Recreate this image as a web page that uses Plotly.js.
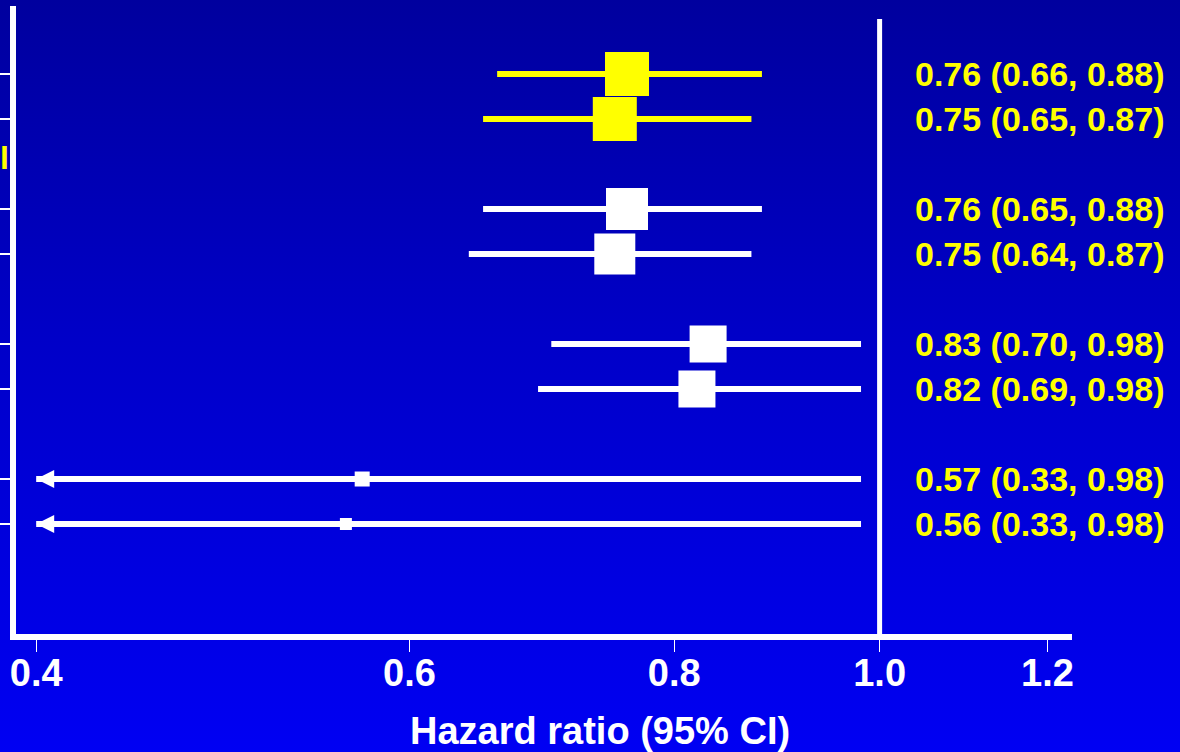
<!DOCTYPE html>
<html>
<head>
<meta charset="utf-8">
<script src="https://cdn.plot.ly/plotly-3.0.1.min.js"></script>
<style>
  html, body { margin: 0; padding: 0; }
  body { width: 1180px; height: 752px; overflow: hidden;
         background: linear-gradient(to bottom, #00009E 0%, #0000C8 45%, #0000F3 100%); }
  #chart { width: 1180px; height: 752px; }
</style>
</head>
<body>
<div id="chart"></div>
<script>
// ---- data ----
const hazardRatio = [0.76, 0.75, 0.76, 0.75, 0.83, 0.82, 0.57, 0.56];
const ciLower     = [0.66, 0.65, 0.65, 0.64, 0.70, 0.69, 0.33, 0.33];
const ciUpper     = [0.88, 0.87, 0.88, 0.87, 0.98, 0.98, 0.98, 0.98];
const groupOf     = [0, 0, 1, 1, 2, 2, 3, 3];
const xTickValues = [0.4, 0.6, 0.8, 1.0, 1.2];
const xTickLabels = ['0.4', '0.6', '0.8', '1.0', '1.2'];
const axisTitle   = 'Hazard ratio (95% CI)';
const nullValue   = 1.0;

// ---- styles ----
const YELLOW = '#FFFF00', WHITE = '#FFFFFF';
const boxSize = [44, 44, 42, 41, 37, 37, 15, 12];
const xMinShown = 0.4;            // lower clip where arrows are drawn
const FONT = 'Arial, "Liberation Sans", Helvetica, sans-serif';

// row positions: pairs inside groups, one blank slot between groups
const yPos = groupOf.map((g, i) => g * 3 + (i % 2));
const rowColor = groupOf.map(g => g === 0 ? YELLOW : WHITE);
const Y_RANGE = [12.444, -1.511];

function lineTrace(color) {
  const xs = [], ys = [];
  hazardRatio.forEach((_, i) => {
    if (rowColor[i] !== color) return;
    xs.push(Math.max(ciLower[i], xMinShown), ciUpper[i], null);
    ys.push(yPos[i], yPos[i], null);
  });
  return { type: 'scatter', mode: 'lines', x: xs, y: ys,
           line: { color: color, width: 6 }, hoverinfo: 'skip', showlegend: false };
}

const refLine = {
  type: 'scatter', mode: 'lines', x: [nullValue, nullValue], y: [-1.222, Y_RANGE[0]],
  line: { color: WHITE, width: 5 }, hoverinfo: 'skip', showlegend: false, cliponaxis: false
};

const arrowIdx = hazardRatio.map((_, i) => i).filter(i => ciLower[i] < xMinShown);
const arrowTrace = {
  type: 'scatter', mode: 'markers',
  x: arrowIdx.map(() => xMinShown), y: arrowIdx.map(i => yPos[i]),
  marker: { symbol: 'arrow-left', size: 18, color: WHITE, opacity: 1, line: { width: 0 } },
  hoverinfo: 'skip', showlegend: false
};

const boxTrace = {
  type: 'scatter', mode: 'markers',
  x: hazardRatio, y: yPos,
  marker: { symbol: 'square', size: boxSize, color: rowColor, opacity: 1, line: { width: 0 } },
  showlegend: false
};

const annotations = hazardRatio.map((v, i) => ({
  xref: 'paper', yref: 'y', x: 0.8494, y: yPos[i], xanchor: 'left', yanchor: 'middle',
  text: v.toFixed(2) + ' (' + ciLower[i].toFixed(2) + ', ' + ciUpper[i].toFixed(2) + ')',
  showarrow: false, font: { family: FONT, size: 34, color: YELLOW, weight: 'bold' }
}));
// fragment of a cut-off left label
annotations.push({
  xref: 'paper', yref: 'y', x: -0.017, y: 1.87, xanchor: 'left', yanchor: 'middle',
  text: 'l', showarrow: false, font: { family: FONT, size: 32, color: YELLOW, weight: 'bold' }
});
// x-axis title (centred on the page, as in the reference)
annotations.push({
  xref: 'paper', yref: 'paper', x: (600 - 16) / 1056, y: -0.1545, xanchor: 'center', yanchor: 'middle',
  text: axisTitle, showarrow: false, font: { family: FONT, size: 38, color: WHITE, weight: 'bold' }
});

const layout = {
  width: 1180, height: 752,
  margin: { l: 16, r: 108, t: 6, b: 118 },
  paper_bgcolor: 'rgba(0,0,0,0)', plot_bgcolor: 'rgba(0,0,0,0)',
  xaxis: {
    type: 'log', range: [-0.40746, 0.09077],
    tickvals: xTickValues, ticktext: xTickLabels,
    ticks: 'outside', ticklen: 12, tickwidth: 1, tickcolor: WHITE,
    ticklabelstandoff: -12,
    showline: true, linecolor: WHITE, linewidth: 6,
    showgrid: false, zeroline: false,
    tickfont: { family: FONT, size: 38, color: WHITE, weight: 'bold' }
  },
  yaxis: {
    range: Y_RANGE,
    tickvals: yPos, showticklabels: false,
    ticks: 'outside', ticklen: 10, tickwidth: 1.5, tickcolor: WHITE,
    showline: true, linecolor: WHITE, linewidth: 6,
    showgrid: false, zeroline: false
  },
  annotations: annotations
};

Plotly.newPlot('chart', [refLine, lineTrace(YELLOW), lineTrace(WHITE), arrowTrace, boxTrace], layout,
               { displayModeBar: false, staticPlot: true });
</script>
</body>
</html>
